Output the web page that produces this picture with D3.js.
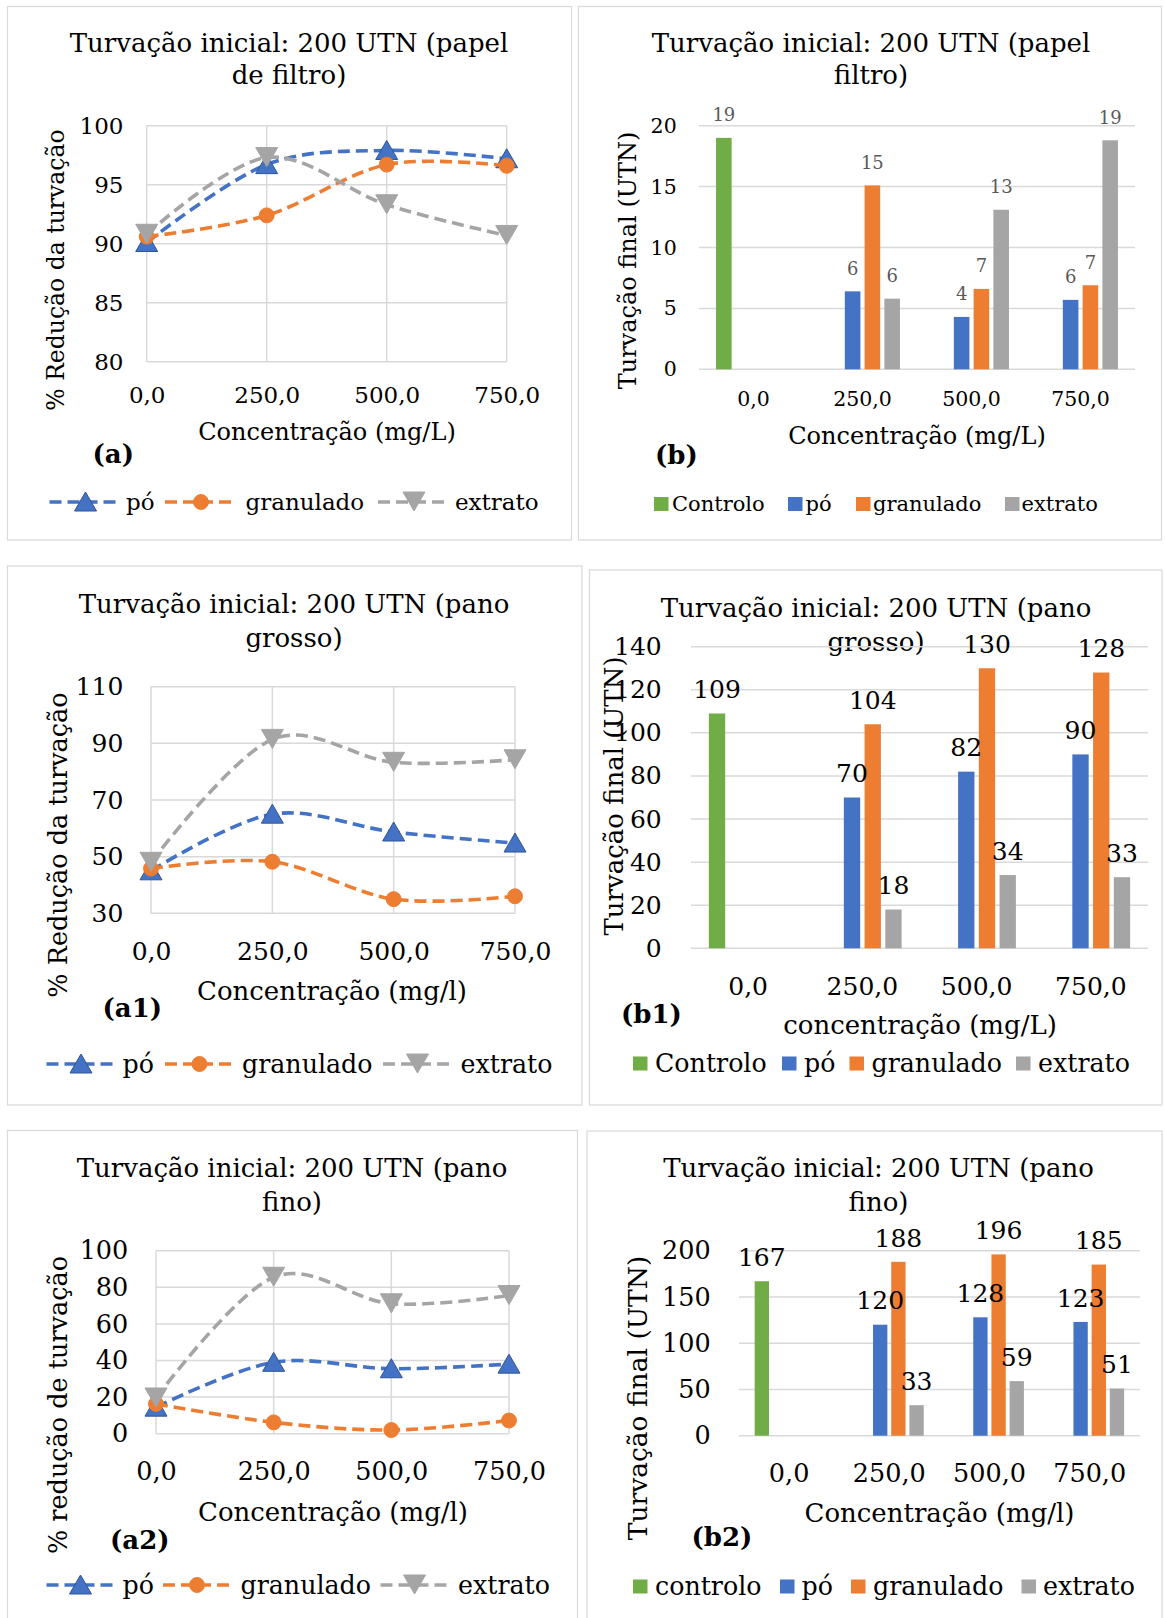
<!DOCTYPE html>
<html>
<head>
<meta charset="utf-8">
<script src="https://cdn.jsdelivr.net/npm/d3@7"></script>
<style>
  html, body { margin: 0; padding: 0; background: #ffffff; }
  svg { display: block; }
  text { font-family: "DejaVu Serif", serif; fill: #000; }
</style>
</head>
<body>
<svg id="fig" width="1165" height="1618"></svg>
<script>
// ---------- data ----------
const concentrations = ["0,0", "250,0", "500,0", "750,0"];
const lineSeriesNames = ["pó", "granulado", "extrato"];
const barSeriesNames = ["Controlo", "pó", "granulado", "extrato"];

// % redução da turvação – papel de filtro
const papelPo = [90.1, 96.7, 97.9, 97.2];
const papelGranulado = [90.6, 92.4, 96.7, 96.6];
const papelExtrato = [90.8, 97.3, 93.3, 90.7];

// % redução da turvação – pano grosso
const grossoPo = [45, 65, 58.7, 54.8];
const grossoGranulado = [45.8, 48.2, 35, 36];
const grossoExtrato = [48, 91.4, 83.3, 84.2];

// % redução de turvação – pano fino
const finoPo = [14.5, 39, 35.5, 38];
const finoGranulado = [16.3, 6.2, 2, 7.2];
const finoExtrato = [19.5, 85.5, 71, 75.5];

// turvação final (UTN) – papel filtro
const papelFinalControlo = [19.0, null, null, null];
const papelFinalPo = [null, 6.4, 4.3, 5.7];
const papelFinalGranulado = [null, 15.1, 6.6, 6.9];
const papelFinalExtrato = [null, 5.8, 13.1, 18.8];

// turvação final (UTN) – pano grosso
const grossoFinalControlo = [109, null, null, null];
const grossoFinalPo = [null, 70, 82, 90];
const grossoFinalGranulado = [null, 104, 130, 128];
const grossoFinalExtrato = [null, 18, 34, 33];

// turvação final (UTN) – pano fino
const finoFinalControlo = [167, null, null, null];
const finoFinalPo = [null, 120, 128, 123];
const finoFinalGranulado = [null, 188, 196, 185];
const finoFinalExtrato = [null, 33, 59, 51];

// axis ticks
const ticksPapelRed = [80, 85, 90, 95, 100];
const ticksGrossoRed = [30, 50, 70, 90, 110];
const ticksFinoRed = [0, 20, 40, 60, 80, 100];
const ticksPapelFinal = [0, 5, 10, 15, 20];
const ticksGrossoFinal = [0, 20, 40, 60, 80, 100, 120, 140];
const ticksFinoFinal = [0, 50, 100, 150, 200];

// ---------- style ----------
const BLUE = "#4472c4", ORANGE = "#ed7d31", GRAY = "#a5a5a5", GREEN = "#70ad47";
const GRID = "#d9d9d9";
const lineColors = [BLUE, ORANGE, GRAY];
const lineMarkers = ["up", "circle", "down"];
const barColors = [GREEN, BLUE, ORANGE, GRAY];
const LINE_W = 3.6, DASH = "12,6";

const svg = d3.select("#fig");

function markerPath(type) {
  if (type === "up") return "M0,-10L11,9L-11,9Z";
  if (type === "down") return "M0,9L-11,-10L11,-10Z";
  return d3.symbol(d3.symbolCircle, 175)();
}

function drawMarker(g, type, color, x, y) {
  g.append("path")
    .attr("d", markerPath(type))
    .attr("transform", `translate(${x},${y})`)
    .attr("fill", color)
    .attr("stroke", type === "up" ? "#2f5597" : color)
    .attr("stroke-width", 1);
}

function frameAndText(g, c) {
  g.append("rect")
    .attr("x", c.box[0]).attr("y", c.box[1])
    .attr("width", c.box[2] - c.box[0]).attr("height", c.box[3] - c.box[1])
    .attr("fill", "#fff").attr("stroke", GRID).attr("stroke-width", 1.2);

  c.title.forEach((t, i) => {
    g.append("text").attr("x", c.titleX).attr("y", c.titleY[i]).attr("dy", "0.35em")
      .attr("text-anchor", "middle").style("font-size", c.titleSize + "px").text(t);
  });
  g.append("text").attr("x", c.xTitleX).attr("y", c.xTitleY).attr("dy", "0.35em")
    .attr("text-anchor", "middle").style("font-size", c.axisTitleSize + "px").text(c.xTitle);
  g.append("text")
    .attr("transform", `translate(${c.yTitleX},${c.yTitleY}) rotate(-90)`)
    .attr("dy", "0.35em").attr("text-anchor", "middle")
    .style("font-size", c.yTitleSize + "px").text(c.yTitle);
  g.append("text").attr("x", c.tagX).attr("y", c.tagY).attr("dy", "0.35em")
    .style("font-size", "26px").style("font-weight", "bold").text(c.tag);
}

function axes(g, c, x, y) {
  const ya = g.append("g").attr("transform", `translate(${c.plot.L},0)`)
    .call(d3.axisLeft(y).tickValues(c.ticks).tickSize(0).tickPadding(c.plot.L - c.tickRight));
  ya.select(".domain").remove();
  ya.selectAll("text").attr("font-family", null).style("font-size", c.tickSize + "px").attr("fill", "#000");

  const xa = g.append("g").attr("transform", `translate(0,${c.plot.B})`)
    .call(d3.axisBottom(x).tickSize(0));
  xa.select(".domain").remove();
  xa.selectAll("text").attr("y", c.xTickY - c.plot.B).attr("dy", "0.35em")
    .style("font-size", c.tickSize + "px").attr("fill", "#000");
}

// ---------- line chart panel ----------
function linePanel(c) {
  const g = svg.append("g");
  frameAndText(g, c);
  const x = d3.scalePoint().domain(concentrations).range([c.plot.L, c.plot.R]).padding(0);
  const y = d3.scaleLinear().domain(c.yDomain).range([c.plot.B, c.plot.T]);

  g.append("g").selectAll("line.h").data(c.ticks).join("line")
    .attr("x1", c.plot.L).attr("x2", c.plot.R)
    .attr("y1", d => y(d)).attr("y2", d => y(d))
    .attr("stroke", GRID).attr("stroke-width", 1.5);
  g.append("g").selectAll("line.v").data(concentrations).join("line")
    .attr("x1", d => x(d)).attr("x2", d => x(d))
    .attr("y1", c.plot.T).attr("y2", c.plot.B)
    .attr("stroke", GRID).attr("stroke-width", 1.5);

  axes(g, c, x, y);

  const line = d3.line()
    .x((d, i) => x(concentrations[i]))
    .y(d => y(d))
    .curve(d3.curveCatmullRom.alpha(0));

  c.series.forEach((vals, s) => {
    g.append("path").datum(vals).attr("d", line)
      .attr("fill", "none").attr("stroke", lineColors[s])
      .attr("stroke-width", LINE_W).attr("stroke-dasharray", DASH);
    vals.forEach((v, i) => drawMarker(g, lineMarkers[s], lineColors[s], x(concentrations[i]), y(v)));
  });

  // legend
  lineSeriesNames.forEach((name, s) => {
    const sx = c.legend.sample[s], len = c.legend.len;
    g.append("line").attr("x1", sx).attr("x2", sx + len)
      .attr("y1", c.legend.y).attr("y2", c.legend.y)
      .attr("stroke", lineColors[s]).attr("stroke-width", LINE_W).attr("stroke-dasharray", DASH);
    drawMarker(g, lineMarkers[s], lineColors[s], sx + len / 2, c.legend.y);
    g.append("text").attr("x", c.legend.text[s]).attr("y", c.legend.y).attr("dy", "0.35em")
      .style("font-size", c.legend.size + "px").text(name);
  });
}

// ---------- clustered bar panel ----------
function barPanel(c) {
  const g = svg.append("g");
  frameAndText(g, c);
  const x = d3.scaleBand().domain(concentrations).range([c.plot.L, c.plot.R]);
  const sub = d3.scaleBand().domain(barSeriesNames).range([0, x.bandwidth()])
    .paddingInner(0.2126).paddingOuter(0.862);
  const y = d3.scaleLinear().domain(c.yDomain).range([c.plot.B, c.plot.T]);

  g.append("g").selectAll("line").data(c.ticks).join("line")
    .attr("x1", c.plot.L).attr("x2", c.plot.R)
    .attr("y1", d => y(d)).attr("y2", d => y(d))
    .attr("stroke", GRID).attr("stroke-width", 1.5);

  axes(g, c, x, y);

  c.series.forEach((vals, s) => {
    vals.forEach((v, i) => {
      if (v == null) return;
      const bx = x(concentrations[i]) + sub(barSeriesNames[s]);
      g.append("rect").attr("x", bx).attr("width", sub.bandwidth())
        .attr("y", y(v)).attr("height", y(0) - y(v)).attr("fill", barColors[s]);
    });
  });
  c.series.forEach((vals, s) => {
    vals.forEach((v, i) => {
      if (v == null) return;
      const cx = x(concentrations[i]) + sub(barSeriesNames[s]) + sub.bandwidth() / 2;
      g.append("text").attr("x", cx).attr("y", y(v) - c.labelOffset).attr("dy", "0.35em")
        .attr("text-anchor", "middle").style("font-size", c.labelSize + "px")
        .style("fill", c.labelColor).text(d3.format(".0f")(v));
    });
  });

  c.legendNames.forEach((name, s) => {
    g.append("rect").attr("x", c.legend.square[s]).attr("y", c.legend.y - 7)
      .attr("width", 14.5).attr("height", 14).attr("fill", barColors[s]);
    g.append("text").attr("x", c.legend.text[s]).attr("y", c.legend.y).attr("dy", "0.35em")
      .style("font-size", c.legend.size + "px").text(name);
  });
}

// ---------- panels ----------
linePanel({
  box: [7.5, 6.5, 571.5, 540],
  plot: { L: 146.7, R: 506.7, T: 125.7, B: 361.7 },
  yDomain: [80, 100], ticks: ticksPapelRed, tickRight: 123.5, tickSize: 23, xTickY: 395,
  title: ["Turvação inicial: 200 UTN (papel", "de filtro)"], titleX: 289, titleY: [43.3, 75], titleSize: 26,
  xTitle: "Concentração (mg/L)", xTitleX: 327, xTitleY: 432, axisTitleSize: 24,
  yTitle: "% Redução da turvação", yTitleX: 56, yTitleY: 270, yTitleSize: 23.5,
  tag: "(a)", tagX: 92.5, tagY: 454,
  series: [papelPo, papelGranulado, papelExtrato],
  legend: { y: 502, sample: [49.5, 165, 378], len: 72, text: [126, 245.5, 455], size: 23 }
});

barPanel({
  box: [578.5, 6.5, 1161.5, 540],
  plot: { L: 699, R: 1135, T: 125.7, B: 369.3 },
  yDomain: [0, 20], ticks: ticksPapelFinal, tickRight: 676.7, tickSize: 20.5, xTickY: 399,
  title: ["Turvação inicial: 200 UTN (papel", "filtro)"], titleX: 871, titleY: [43.3, 75], titleSize: 26,
  xTitle: "Concentração (mg/L)", xTitleX: 917, xTitleY: 436, axisTitleSize: 24,
  yTitle: "Turvação final (UTN)", yTitleX: 627.5, yTitleY: 260.5, yTitleSize: 24,
  tag: "(b)", tagX: 655, tagY: 455,
  series: [papelFinalControlo, papelFinalPo, papelFinalGranulado, papelFinalExtrato],
  labelOffset: 23, labelSize: 18, labelColor: "#595959",
  legendNames: ["Controlo", "pó", "granulado", "extrato"],
  legend: { y: 504, square: [654, 788, 856, 1005], text: [672, 805.5, 873, 1021.5], size: 21 }
});

linePanel({
  box: [7.5, 566, 582, 1105],
  plot: { L: 151, R: 515, T: 686.7, B: 913.3 },
  yDomain: [30, 110], ticks: ticksGrossoRed, tickRight: 123.3, tickSize: 25, xTickY: 951,
  title: ["Turvação inicial: 200 UTN (pano", "grosso)"], titleX: 294, titleY: [604, 637.5], titleSize: 26,
  xTitle: "Concentração (mg/l)", xTitleX: 332, xTitleY: 991, axisTitleSize: 26,
  yTitle: "% Redução da turvação", yTitleX: 58.5, yTitleY: 845, yTitleSize: 25.5,
  tag: "(a1)", tagX: 102.5, tagY: 1008,
  series: [grossoPo, grossoGranulado, grossoExtrato],
  legend: { y: 1064, sample: [46.5, 165, 383], len: 69, text: [122.5, 242, 460.5], size: 25.3 }
});

barPanel({
  box: [589.5, 570, 1162, 1105],
  plot: { L: 691, R: 1148, T: 646.7, B: 948.3 },
  yDomain: [0, 140], ticks: ticksGrossoFinal, tickRight: 661.7, tickSize: 25, xTickY: 986,
  title: ["Turvação inicial: 200 UTN (pano", "grosso)"], titleX: 876, titleY: [607.4, 642], titleSize: 26,
  xTitle: "concentração (mg/L)", xTitleX: 920, xTitleY: 1025, axisTitleSize: 26,
  yTitle: "Turvação final (UTN)", yTitleX: 614, yTitleY: 796, yTitleSize: 26,
  tag: "(b1)", tagX: 621, tagY: 1014,
  series: [grossoFinalControlo, grossoFinalPo, grossoFinalGranulado, grossoFinalExtrato],
  labelOffset: 24, labelSize: 25, labelColor: "#000",
  legendNames: ["Controlo", "pó", "granulado", "extrato"],
  legend: { y: 1063.5, square: [633, 782, 849.5, 1016], text: [655, 804, 871.5, 1038], size: 25.3 }
});

linePanel({
  box: [7.5, 1130.5, 577.5, 1625],
  plot: { L: 156, R: 509, T: 1250.7, B: 1433.7 },
  yDomain: [0, 100], ticks: ticksFinoRed, tickRight: 128.3, tickSize: 25.5, xTickY: 1471,
  title: ["Turvação inicial: 200 UTN (pano", "fino)"], titleX: 292, titleY: [1168.3, 1201.5], titleSize: 26,
  xTitle: "Concentração (mg/l)", xTitleX: 333, xTitleY: 1511.5, axisTitleSize: 26,
  yTitle: "% redução de turvação", yTitleX: 58, yTitleY: 1405, yTitleSize: 25.5,
  tag: "(a2)", tagX: 110, tagY: 1540,
  series: [finoPo, finoGranulado, finoExtrato],
  legend: { y: 1585, sample: [46.5, 163, 380.5], len: 68, text: [122.5, 240.5, 458], size: 25.3 }
});

barPanel({
  box: [587, 1131, 1162, 1625],
  plot: { L: 739, R: 1139.8, T: 1250.7, B: 1435.7 },
  yDomain: [0, 200], ticks: ticksFinoFinal, tickRight: 710.7, tickSize: 25.5, xTickY: 1473,
  title: ["Turvação inicial: 200 UTN (pano", "fino)"], titleX: 878.5, titleY: [1168.3, 1201.5], titleSize: 26,
  xTitle: "Concentração (mg/l)", xTitleX: 939.5, xTitleY: 1513, axisTitleSize: 26,
  yTitle: "Turvação final (UTN)", yTitleX: 637.5, yTitleY: 1398, yTitleSize: 26.5,
  tag: "(b2)", tagX: 691.5, tagY: 1536.5,
  series: [finoFinalControlo, finoFinalPo, finoFinalGranulado, finoFinalExtrato],
  labelOffset: 24, labelSize: 25, labelColor: "#000",
  legendNames: ["controlo", "pó", "granulado", "extrato"],
  legend: { y: 1586.5, square: [633, 780, 851, 1021.5], text: [655, 801.5, 873, 1043], size: 25.3 }
});
</script>
</body>
</html>
